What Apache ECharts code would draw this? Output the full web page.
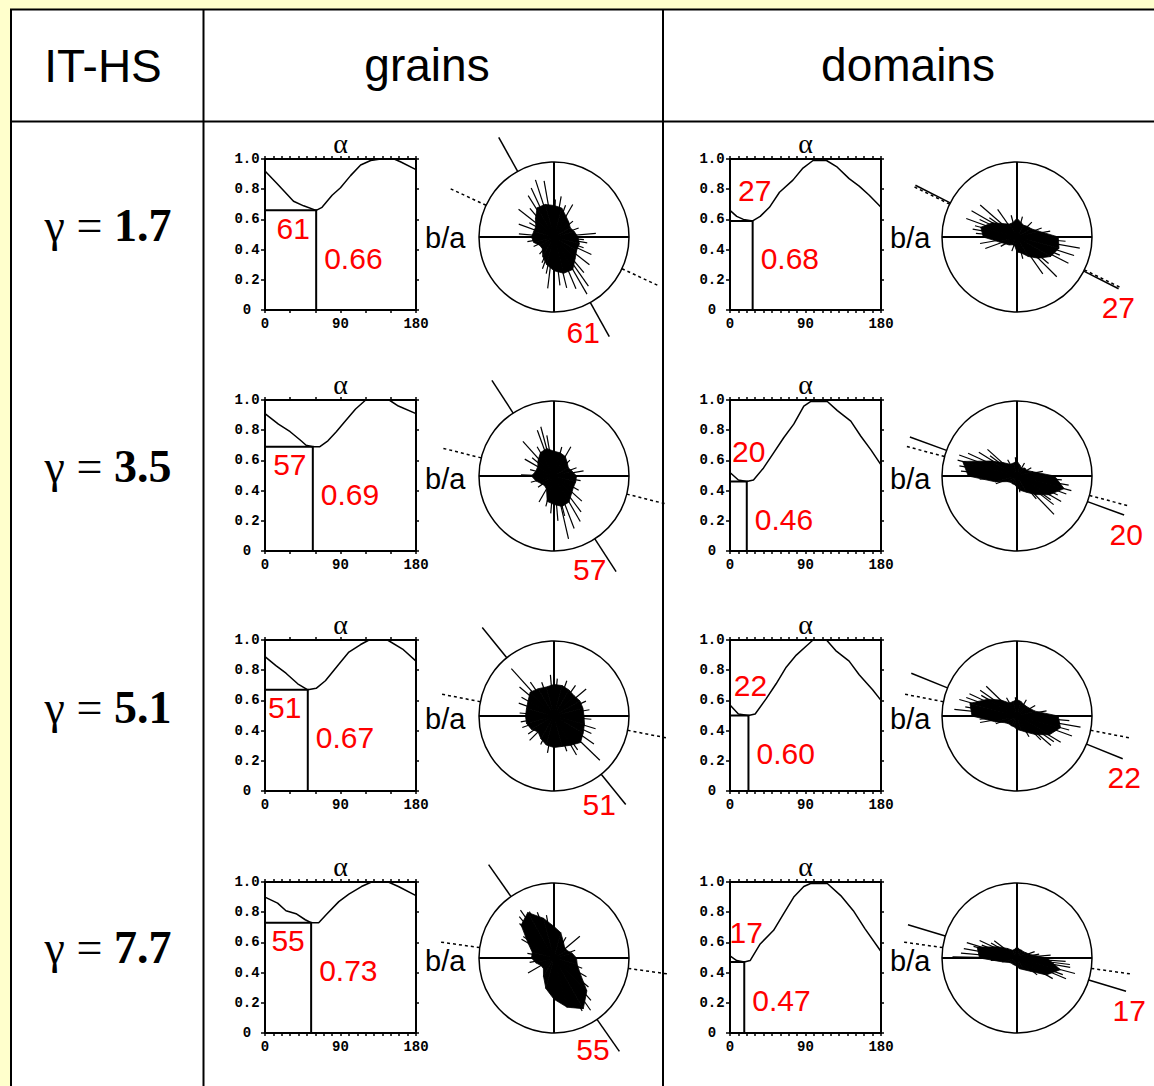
<!DOCTYPE html>
<html>
<head>
<meta charset="utf-8">
<title>IT-HS b/a</title>
<script src="https://cdn.jsdelivr.net/npm/echarts@6/dist/echarts.min.js"></script>
<style>
  html, body { margin: 0; padding: 0; background: #FFFFCC; }
  #chart { width: 1154px; height: 1086px; }
</style>
</head>
<body>
<div id="chart"></div>
<script>
// ---------- table text ----------
const cornerTitle = 'IT-HS';
const columnTitles = ['grains', 'domains'];
const gammaValues = ['1.7', '3.5', '5.1', '7.7'];
const xTickLabels = [0, 90, 180];

// ---------- grains: projection curves b/a(α) ----------
const grainCurve1 = [[0,0.92],[14,0.84],[24,0.78],[34,0.72],[46,0.69],[61,0.66],[68,0.68],[80,0.76],[90,0.81],[102,0.89],[114,0.96],[126,0.99],[138,1.0],[154,1.0],[162,0.98],[180,0.93]];
const grainCurve2 = [[0,0.91],[16,0.84],[30,0.79],[43,0.73],[49,0.70],[57,0.69],[65,0.69],[75,0.73],[85,0.79],[94,0.85],[108,0.94],[120,1.0],[148,1.0],[159,0.96],[180,0.91]];
const grainCurve3 = [[0,0.89],[13,0.83],[25,0.78],[39,0.71],[51,0.67],[61,0.68],[72,0.73],[88,0.84],[100,0.92],[114,0.97],[124,1.0],[146,1.0],[164,0.94],[180,0.86]];
const grainCurve4 = [[0,0.90],[15,0.86],[25,0.81],[37,0.79],[48,0.75],[55,0.73],[64,0.73],[74,0.79],[88,0.87],[100,0.92],[115,0.97],[127,1.0],[147,1.0],[159,0.97],[180,0.91]];

const grainAngle = [61, 57, 51, 55];
const grainMin = [0.66, 0.69, 0.67, 0.73];
const grainRatio = ['0.66', '0.69', '0.67', '0.73'];
const grainShear = [25, 14, 11, 8];

// rose core radii at 0,15,...,345 degrees (fraction of circle radius)
const grainCore1 = [0.32,0.28,0.25,0.28,0.32,0.40,0.42,0.45,0.45,0.35,0.28,0.28,0.30,0.28,0.22,0.22,0.30,0.38,0.45,0.50,0.50,0.40,0.35,0.35];
const grainCore2 = [0.30,0.25,0.22,0.25,0.30,0.32,0.33,0.38,0.36,0.30,0.25,0.25,0.30,0.25,0.20,0.18,0.20,0.35,0.38,0.42,0.40,0.33,0.30,0.30];
const grainCore3 = [0.40,0.40,0.40,0.38,0.40,0.42,0.42,0.40,0.42,0.45,0.40,0.38,0.38,0.38,0.35,0.30,0.35,0.40,0.42,0.42,0.45,0.50,0.45,0.42];
const grainCore4 = [0.30,0.25,0.20,0.20,0.25,0.35,0.42,0.55,0.70,0.62,0.40,0.30,0.30,0.25,0.20,0.20,0.28,0.42,0.55,0.68,0.78,0.62,0.40,0.32];

// rose spikes: [direction in degrees, length]
const grainSpikes1 = [[100,0.76],[108,0.8],[115,0.72],[122,0.65],[142,0.6],[160,0.5],[175,0.47],[5,0.56],[0,0.5],[350,0.45],[335,0.55],[322,0.6],[305,0.8],[300,0.88],[293,0.75],[284,0.7],[277,0.65],[263,0.69],[250,0.45],[60,0.5],[80,0.55],
  [20,0.35],[40,0.33],[70,0.45],[88,0.5],[130,0.5],[150,0.38],[190,0.36],[205,0.3],[230,0.3],[245,0.38],[258,0.5],[270,0.55],[310,0.62],[340,0.42],[355,0.4]];
const grainSpikes2 = [[105,0.68],[110,0.65],[100,0.55],[132,0.62],[150,0.45],[178,0.44],[0,0.64],[10,0.4],[283,0.86],[291,0.75],[307,0.6],[300,0.7],[275,0.6],[318,0.5],[60,0.45],[240,0.4],
  [20,0.32],[45,0.3],[75,0.4],[90,0.42],[120,0.45],[140,0.38],[165,0.33],[195,0.32],[215,0.26],[255,0.42],[265,0.5],[285,0.55],[330,0.38],[350,0.36]];
const grainSpikes3 = [[132,0.85],[140,0.6],[125,0.55],[40,0.56],[55,0.5],[316,0.85],[343,0.58],[325,0.65],[300,0.6],[225,0.46],[200,0.45],[270,0.55],[160,0.5],[95,0.55],
  [10,0.48],[25,0.47],[70,0.5],[85,0.5],[110,0.48],[150,0.5],[175,0.46],[190,0.45],[215,0.42],[245,0.42],[260,0.5],[290,0.5],[305,0.55],[335,0.55],[355,0.5]];
const grainSpikes4 = [[125,0.78],[118,0.7],[130,0.72],[40,0.45],[210,0.4],[305,0.85],[298,0.8],[311,0.75],[290,0.7],[150,0.5],[330,0.5],
  [100,0.58],[110,0.65],[135,0.65],[145,0.5],[170,0.36],[190,0.33],[280,0.6],[285,0.68],[320,0.6],[340,0.4],[20,0.3],[60,0.32]];

// ---------- domains ----------
const domainCurve1 = [[0,0.66],[8,0.62],[16,0.60],[27,0.59],[36,0.62],[47,0.68],[59,0.78],[75,0.86],[87,0.94],[99,0.99],[115,0.99],[127,0.95],[142,0.87],[154,0.82],[166,0.76],[180,0.68]];
const domainCurve2 = [[0,0.52],[10,0.47],[20,0.46],[28,0.47],[40,0.55],[52,0.65],[64,0.75],[76,0.84],[88,0.96],[96,0.99],[116,0.99],[128,0.93],[144,0.86],[156,0.76],[168,0.67],[180,0.57]];
const domainCurve3 = [[0,0.57],[10,0.51],[22,0.50],[30,0.51],[43,0.61],[55,0.71],[67,0.82],[79,0.90],[91,0.96],[99,1.0],[115,1.0],[126,0.93],[142,0.86],[154,0.77],[170,0.67],[180,0.60]];
const domainCurve4 = [[0,0.51],[8,0.48],[17,0.47],[24,0.48],[36,0.59],[52,0.68],[64,0.79],[76,0.90],[88,0.97],[96,0.99],[116,0.99],[132,0.91],[147,0.81],[161,0.69],[180,0.54]];

const domainAngle = [27, 20, 22, 17];
const domainMin = [0.59, 0.46, 0.50, 0.47];
const domainRatio = ['0.68', '0.46', '0.60', '0.47'];
const domainShear = [26, 15, 11, 8];

const domainCore1 = [0.55,0.30,0.22,0.20,0.18,0.20,0.25,0.20,0.20,0.25,0.38,0.50,0.45,0.25,0.18,0.15,0.12,0.12,0.20,0.22,0.30,0.40,0.52,0.58];
const domainCore2 = [0.50,0.22,0.15,0.15,0.12,0.15,0.20,0.18,0.18,0.25,0.40,0.75,0.65,0.30,0.15,0.12,0.12,0.12,0.15,0.20,0.25,0.35,0.50,0.65];
const domainCore3 = [0.55,0.25,0.20,0.18,0.18,0.20,0.22,0.20,0.20,0.30,0.45,0.65,0.60,0.30,0.18,0.15,0.15,0.15,0.18,0.20,0.25,0.35,0.50,0.60];
const domainCore4 = [0.40,0.18,0.14,0.12,0.12,0.12,0.15,0.12,0.12,0.18,0.30,0.55,0.50,0.20,0.12,0.10,0.10,0.10,0.12,0.15,0.18,0.25,0.45,0.60];

const domainSpikes1 = [[160,0.72],[150,0.7],[139,0.65],[170,0.6],[190,0.5],[350,0.85],[342,0.8],[333,0.77],[315,0.75],[305,0.6],[90,0.47],[125,0.45],[200,0.45],[0,0.7],
  [10,0.45],[20,0.35],[45,0.28],[75,0.28],[105,0.3],[145,0.45],[155,0.55],[165,0.58],[175,0.55],[210,0.25],[250,0.2],[285,0.3],[320,0.55],[337,0.62],[355,0.65]];
const domainSpikes2 = [[160,0.82],[170,0.78],[180,0.86],[155,0.72],[148,0.6],[138,0.53],[345,0.75],[340,0.7],[330,0.68],[314,0.71],[322,0.62],[355,0.6],[95,0.25],[0,0.7],
  [10,0.35],[30,0.22],[60,0.2],[120,0.25],[143,0.45],[165,0.82],[175,0.75],[185,0.5],[200,0.3],[280,0.22],[310,0.4],[325,0.55],[335,0.6],[350,0.7]];
const domainSpikes3 = [[164,0.8],[174,0.84],[155,0.7],[136,0.57],[145,0.6],[350,0.86],[340,0.78],[329,0.68],[319,0.6],[0,0.6],[190,0.5],[95,0.25],
  [10,0.4],[30,0.28],[60,0.25],[120,0.28],[150,0.55],[160,0.72],[170,0.7],[185,0.5],[200,0.3],[300,0.32],[315,0.45],[325,0.6],[345,0.72],[355,0.7]];
const domainSpikes4 = [[179,0.86],[170,0.72],[165,0.6],[143,0.38],[353,0.71],[337,0.71],[345,0.8],[356,0.65],[160,0.5],[10,0.3],
  [5,0.45],[20,0.25],[150,0.4],[155,0.55],[163,0.7],[175,0.75],[185,0.35],[320,0.35],[330,0.55],[340,0.65],[350,0.72]];

// ---------- layout ----------
const ROW_TOP = [159, 400, 640, 882];
const ROSE_Y = [237, 476, 716, 958];
const PLOT_LEFT = [265, 730];
const ROSE_X = [554, 1017];
const PLOT_SIZE = 151;
const ROSE_R = 75;
const GUIDE_END = 1.52;
const TOP_TICK = [[10, 30, 30, 10], [10, 10, 10, 10]];
const BOTTOM_TICK = [[30, 30, 30, 10], [10, 10, 10, 10]];
const LABEL_POS = [
  { angleDx: -23, angleDy: 18, ratioDx: 8, ratioDy: 48, roseR: 1.33, roseTurn: 12 },
  { angleDx: 2, angleDy: -30, ratioDx: 8, ratioDy: 38, roseR: 1.65, roseTurn: 8 }
];
const SANS = '"Liberation Sans", Arial, Helvetica, sans-serif';
const SERIF = '"Liberation Serif", "Times New Roman", serif';
const MONO = '"Liberation Mono", "DejaVu Sans Mono", monospace';
const RED = '#FF0000';

const columns = [
  { angle: grainAngle, min: grainMin, ratio: grainRatio, shear: grainShear,
    curves: [grainCurve1, grainCurve2, grainCurve3, grainCurve4],
    cores: [grainCore1, grainCore2, grainCore3, grainCore4],
    spikes: [grainSpikes1, grainSpikes2, grainSpikes3, grainSpikes4] },
  { angle: domainAngle, min: domainMin, ratio: domainRatio, shear: domainShear,
    curves: [domainCurve1, domainCurve2, domainCurve3, domainCurve4],
    cores: [domainCore1, domainCore2, domainCore3, domainCore4],
    spikes: [domainSpikes1, domainSpikes2, domainSpikes3, domainSpikes4] }
];

const option = {
  animation: false,
  backgroundColor: 'transparent',
  grid: [], xAxis: [], yAxis: [], polar: [], angleAxis: [], radiusAxis: [], series: [],
  graphic: []
};

const axisLine = { show: true, onZero: false, lineStyle: { color: '#000', width: 2 } };
const tickFont = { fontFamily: MONO, fontWeight: 'bold', fontSize: 14, color: '#000' };

let p = 0;
for (let c = 0; c < 2; c++) {
  const col = columns[c];
  const lp = LABEL_POS[c];
  for (let r = 0; r < 4; r++, p++) {
    const left = PLOT_LEFT[c], top = ROW_TOP[r];
    option.grid.push({ left: left, top: top, width: PLOT_SIZE, height: PLOT_SIZE, show: false });
    // bottom α axis
    option.xAxis.push({
      gridIndex: p, type: 'value', min: 0, max: 180, interval: BOTTOM_TICK[c][r], position: 'bottom',
      axisLine: axisLine, splitLine: { show: false },
      axisTick: { show: true, length: 3, lineStyle: { color: '#000', width: 1.5 } },
      axisLabel: Object.assign({ margin: 7, formatter: v => xTickLabels.indexOf(v) >= 0 ? String(v) : '' }, tickFont)
    });
    // top frame
    option.xAxis.push({
      gridIndex: p, type: 'value', min: 0, max: 180, interval: TOP_TICK[c][r], position: 'top',
      axisLine: axisLine, splitLine: { show: false },
      axisTick: { show: true, length: 3, lineStyle: { color: '#000', width: 1.5 } },
      axisLabel: { show: false }
    });
    // left b/a axis
    option.yAxis.push({
      gridIndex: p, type: 'value', min: 0, max: 1, interval: 0.2, position: 'left',
      axisLine: axisLine, splitLine: { show: false },
      axisTick: { show: true, length: 4, lineStyle: { color: '#000', width: 1.5 } },
      axisLabel: Object.assign({ margin: 18, align: 'center', formatter: v => v === 0 ? '0' : v.toFixed(1) }, tickFont)
    });
    // right frame
    option.yAxis.push({
      gridIndex: p, type: 'value', min: 0, max: 1, interval: 0.2, position: 'right',
      axisLine: axisLine, splitLine: { show: false },
      axisTick: { show: true, length: 3, lineStyle: { color: '#000', width: 1.5 } },
      axisLabel: { show: false }
    });

    option.series.push({
      type: 'line', xAxisIndex: 2 * p, yAxisIndex: 2 * p, data: col.curves[r],
      symbol: 'none', silent: true, lineStyle: { color: '#000', width: 1.5 }
    });

    const ratioText = col.ratio[r];
    option.series.push({
      type: 'custom', coordinateSystem: 'cartesian2d', xAxisIndex: 2 * p, yAxisIndex: 2 * p,
      silent: true, data: [[col.angle[r], col.min[r]]],
      renderItem: function (params, api) {
        const a = api.value(0), m = api.value(1);
        const p0 = api.coord([0, m]), p1 = api.coord([a, m]), p2 = api.coord([a, 0]);
        return {
          type: 'group', children: [
            { type: 'polyline', shape: { points: [p0, p1, p2] }, style: { stroke: '#000', lineWidth: 2, fill: null } },
            { type: 'text', style: { text: String(a), x: p1[0] + lp.angleDx, y: p1[1] + lp.angleDy,
                align: 'center', verticalAlign: 'middle', fill: RED, fontSize: 30, fontFamily: SANS } },
            { type: 'text', style: { text: ratioText, x: p1[0] + lp.ratioDx, y: p1[1] + lp.ratioDy,
                align: 'left', verticalAlign: 'middle', fill: RED, fontSize: 30, fontFamily: SANS } }
          ]
        };
      }
    });

    // rose diagram
    option.polar.push({ center: [ROSE_X[c], ROSE_Y[r]], radius: ROSE_R });
    option.angleAxis.push({
      polarIndex: p, type: 'value', min: 0, max: 360, interval: 90, startAngle: 0, clockwise: false,
      axisLine: { show: true, lineStyle: { color: '#000', width: 1.5 } },
      axisTick: { show: false }, axisLabel: { show: false },
      splitLine: { show: true, lineStyle: { color: '#000', width: 2 } }
    });
    option.radiusAxis.push({ polarIndex: p, type: 'value', min: 0, max: 1, show: false });

    const coreData = col.cores[r].map((v, k) => [v, k * 15]);
    option.series.push({
      type: 'custom', coordinateSystem: 'polar', polarIndex: p, silent: true, data: coreData,
      renderItem: function (params, api) {
        const nxt = coreData[(params.dataIndex + 1) % coreData.length];
        const o = api.coord([0, 0]);
        const a = api.coord([api.value(0), api.value(1)]);
        const b = api.coord([nxt[0], nxt[1]]);
        return { type: 'polygon', shape: { points: [o, a, b] }, style: { fill: '#000', stroke: '#000', lineWidth: 0.8 } };
      }
    });

    option.series.push({
      type: 'custom', coordinateSystem: 'polar', polarIndex: p, silent: true,
      data: col.spikes[r].map(s => [s[1], s[0]]),
      renderItem: function (params, api) {
        const t = api.value(1);
        const a = api.coord([0, t]), b = api.coord([api.value(0), t]);
        return { type: 'line', shape: { x1: a[0], y1: a[1], x2: b[0], y2: b[1] }, style: { stroke: '#000', lineWidth: 1.2 } };
      }
    });

    option.series.push({
      type: 'custom', coordinateSystem: 'polar', polarIndex: p, silent: true,
      data: [[col.angle[r], col.shear[r]]],
      renderItem: function (params, api) {
        const a = api.value(0), s = api.value(1);
        const seg = (deg, dashed) => {
          const t = ((deg % 360) + 360) % 360;
          const u = api.coord([1, t]), v = api.coord([GUIDE_END, t]);
          const style = { stroke: '#000', lineWidth: 1.5 };
          if (dashed) style.lineDash = [3, 3];
          return { type: 'line', shape: { x1: u[0], y1: u[1], x2: v[0], y2: v[1] }, style: style };
        };
        const tp = api.coord([lp.roseR, 360 - a - lp.roseTurn]);
        return {
          type: 'group', children: [
            seg(180 - s, true), seg(360 - s, true), seg(180 - a, false), seg(360 - a, false),
            { type: 'text', style: { text: String(a), x: tp[0], y: tp[1], align: 'center', verticalAlign: 'middle',
                fill: RED, fontSize: 30, fontFamily: SANS } }
          ]
        };
      }
    });

    // α and b/a captions
    option.graphic.push({ type: 'text', z: 100, x: left + PLOT_SIZE / 2, y: top - 16,
      style: { text: 'α', align: 'center', verticalAlign: 'middle', fontSize: 28, fontFamily: SERIF, fill: '#000' } });
    option.graphic.push({ type: 'text', z: 100, x: left + PLOT_SIZE + 9, y: top + 79,
      style: { text: 'b/a', align: 'left', verticalAlign: 'middle', fontSize: 29, fontFamily: SANS, fill: '#000' } });
  }
}

// table frame
option.graphic.push({ type: 'rect', z: -100, shape: { x: 11, y: 9.5, width: 1200, height: 1200 },
  style: { fill: '#FFFFFF', stroke: '#000', lineWidth: 2 } });
option.graphic.push({ type: 'line', z: -90, shape: { x1: 11, y1: 121.5, x2: 1154, y2: 121.5 }, style: { stroke: '#000', lineWidth: 2 } });
option.graphic.push({ type: 'line', z: -90, shape: { x1: 203.5, y1: 9, x2: 203.5, y2: 1086 }, style: { stroke: '#000', lineWidth: 2 } });
option.graphic.push({ type: 'line', z: -90, shape: { x1: 663, y1: 9, x2: 663, y2: 1086 }, style: { stroke: '#000', lineWidth: 2 } });

// header
option.graphic.push({ type: 'text', z: 100, x: 103, y: 66,
  style: { text: cornerTitle, align: 'center', verticalAlign: 'middle', fontSize: 46, fontFamily: SANS, fill: '#000' } });
const headerX = [427, 908];
columnTitles.forEach((t, i) => option.graphic.push({ type: 'text', z: 100, x: headerX[i], y: 65,
  style: { text: t, align: 'center', verticalAlign: 'middle', fontSize: 46, fontFamily: SANS, fill: '#000' } }));

// γ row labels
const gammaY = [225, 466, 707, 947];
gammaValues.forEach((g, i) => option.graphic.push({ type: 'text', z: 100, x: 108, y: gammaY[i],
  style: { text: '{a|γ = }{b|' + g + '}', align: 'center', verticalAlign: 'middle', fill: '#000',
    rich: { a: { fontSize: 46, fontFamily: SERIF, fill: '#000' }, b: { fontSize: 46, fontFamily: SERIF, fontWeight: 'bold', fill: '#000' } } } }));

const chart = echarts.init(document.getElementById('chart'), null, { renderer: 'svg' });
chart.setOption(option);
</script>
</body>
</html>
